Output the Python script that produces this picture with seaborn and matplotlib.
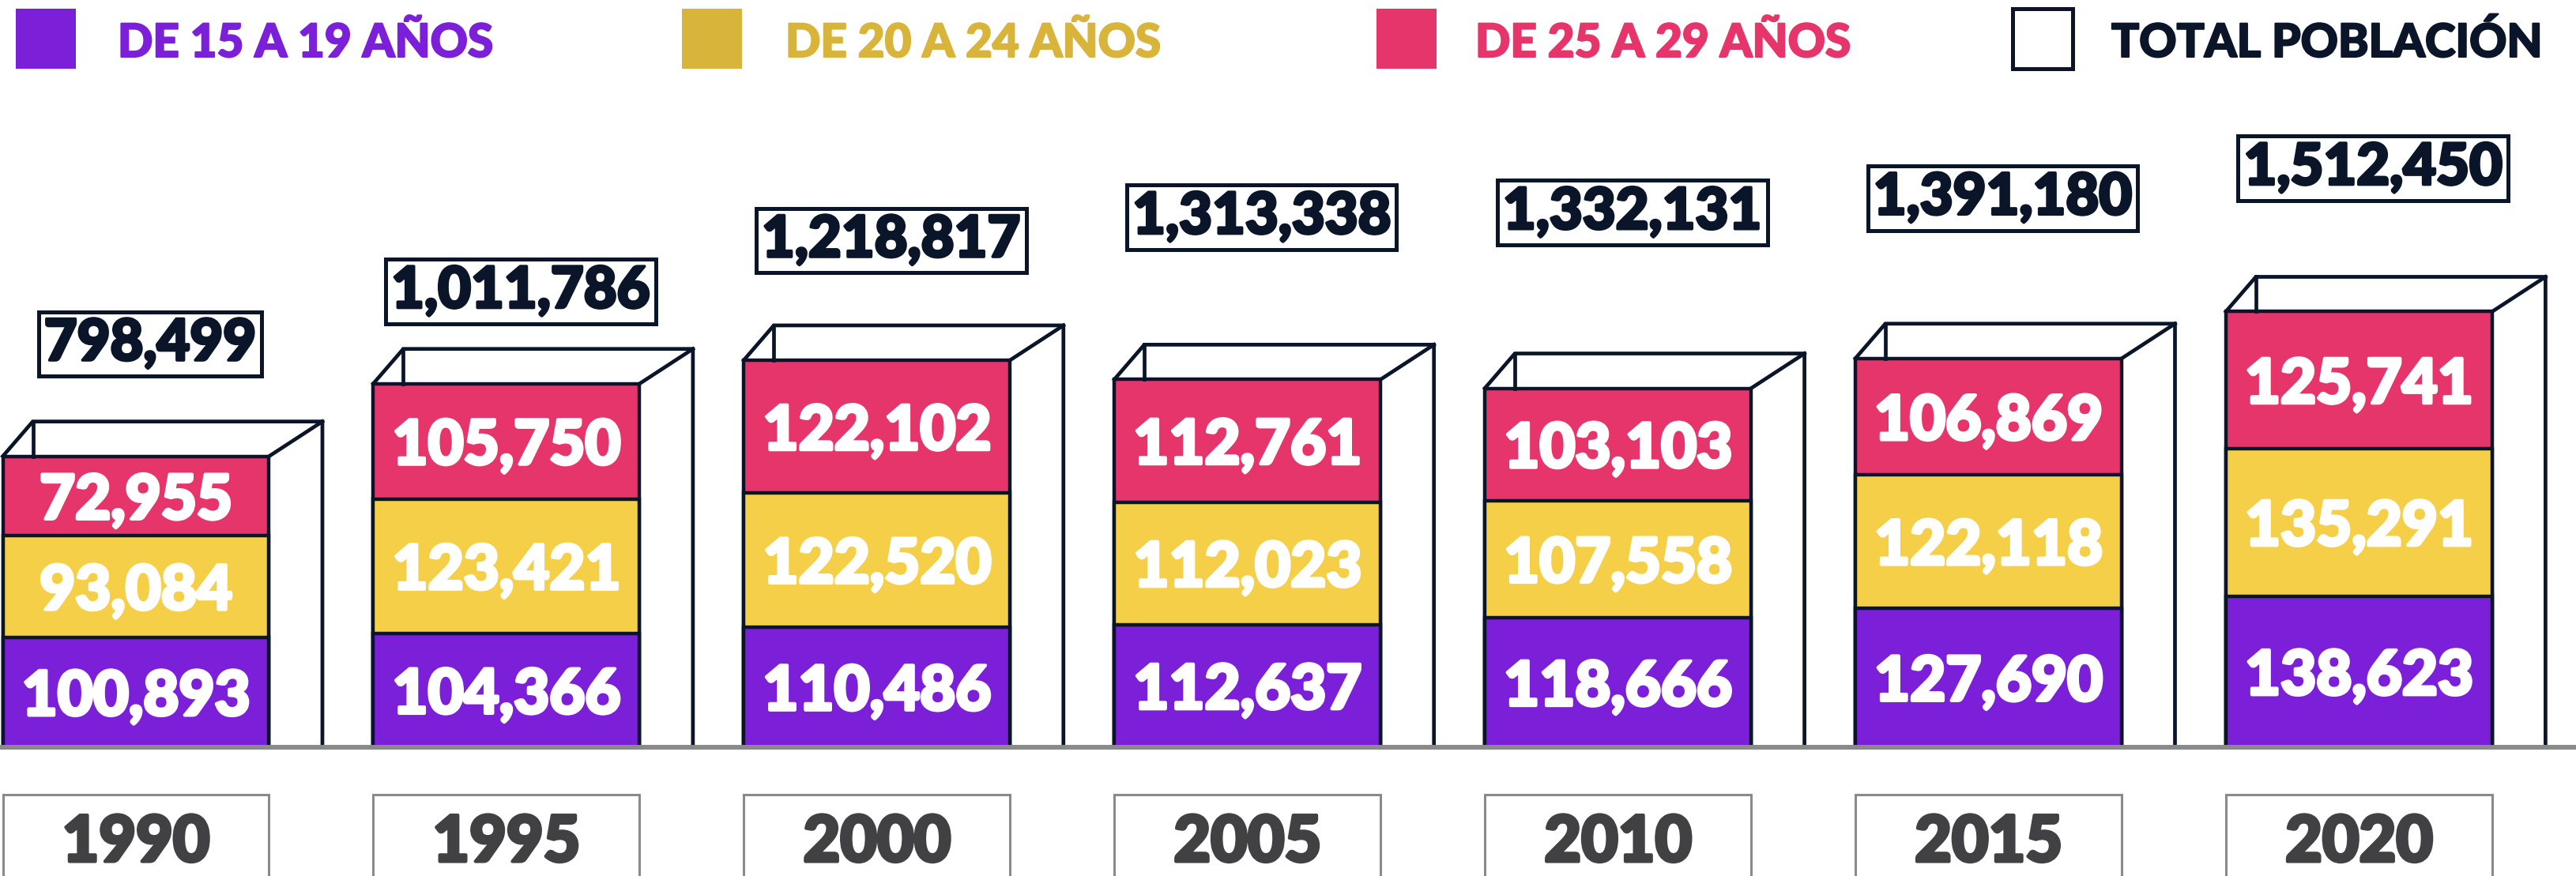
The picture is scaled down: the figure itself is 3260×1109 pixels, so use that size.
import pandas as pd
import matplotlib
matplotlib.use("Agg")
import matplotlib.pyplot as plt
import matplotlib.patheffects as pe
from matplotlib.patches import Rectangle
import seaborn as sns

years = ["1990", "1995", "2000", "2005", "2010", "2015", "2020"]
age_15_19 = [100893, 104366, 110486, 112637, 118666, 127690, 138623]
age_20_24 = [93084, 123421, 122520, 112023, 107558, 122118, 135291]
age_25_29 = [72955, 105750, 122102, 112761, 103103, 106869, 125741]
total_pop = [798499, 1011786, 1218817, 1313338, 1332131, 1391180, 1512450]
legend_labels = ["DE 15 A 19 AÑOS", "DE 20 A 24 AÑOS", "DE 25 A 29 AÑOS", "TOTAL POBLACIÓN"]

PURPLE = "#7B1FD9"
YELLOW = "#F4CF47"
RED = "#E5356B"
GOLD = "#D9B43A"
NAVY = "#0B1529"
GREY = "#8A8A8A"
YEAR_TXT = "#414042"

# layout, in output pixels
W, H, DPI = 3260, 1109, 100
BASE_PX = 163            # baseline height above bottom edge
PX_PER_UNIT_X = 468.9    # distance between bar centres
FIRST_CENTER_PX = 172
PX_PER_K = 1.38          # bar height per 1000 people
TOTAL_PX_PER_K = 0.3116  # total-label height per 1000 people
TOTAL_OFFSET_PX = 261.7
BAR_W = 0.7187

sns.set_style("white")
plt.rcParams["font.family"] = ["Lato", "DejaVu Sans"]


def heavy(color, lw):
    # thicken bold glyphs to get closer to a black weight
    return [pe.withStroke(linewidth=lw, foreground=color)]


df = pd.DataFrame({"year": years, "a": age_15_19, "b": age_20_24,
                   "c": age_25_29, "total": total_pop})
df["cum_a"] = df["a"]
df["cum_b"] = df["a"] + df["b"]
df["cum_c"] = df["cum_b"] + df["c"]

fig = plt.figure(figsize=(W / DPI, H / DPI), dpi=DPI)
ax = fig.add_axes([0, 0, 1, 1])

# stacked bars by overdrawing cumulative sums
for col, colr in [("cum_c", RED), ("cum_b", YELLOW), ("cum_a", PURPLE)]:
    sns.barplot(data=df, x="year", y=col, color=colr, saturation=1, width=BAR_W,
                errorbar=None, edgecolor=NAVY, linewidth=3.2, ax=ax)
outer = ax.patches[:len(years)]

xmin = -FIRST_CENTER_PX / PX_PER_UNIT_X
ax.set_xlim(xmin, xmin + W / PX_PER_UNIT_X)
ymin = -BASE_PX / PX_PER_K * 1000
ax.set_ylim(ymin, ymin + H / PX_PER_K * 1000)

# 3d box behind each stack
dxl = 38 / PX_PER_UNIT_X
dxr = 67.5 / PX_PER_UNIT_X
dy = 44 / PX_PER_K * 1000
line_kw = dict(color=NAVY, lw=3.4, solid_joinstyle="miter", solid_capstyle="projecting", zorder=3)
for p in outer:
    x0, w, top = p.get_x(), p.get_width(), p.get_height()
    x1 = x0 + w
    ax.plot([x0, x0 + dxl, x1 + dxr, x1 + dxr], [top, top + dy, top + dy, 0], **line_kw)
    ax.plot([x0 + dxl, x0 + dxl], [top + dy, top], **line_kw)
    ax.plot([x1, x1 + dxr], [top, top + dy], **line_kw)

# segment values
for i in range(len(years)):
    bottom = 0
    for val in (age_15_19[i], age_20_24[i], age_25_29[i]):
        ax.text(i, bottom + val / 2, f"{val:,}", ha="center", va="center_baseline",
                color="white", fontsize=56, fontweight="black", zorder=5,
                path_effects=heavy("white", 3))
        bottom += val

ax.axhline(0, color=GREY, lw=4.3, zorder=4)

# year boxes under the baseline
year_top = -60 / PX_PER_K * 1000
year_y = -114 / PX_PER_K * 1000
for p, yr in zip(outer, years):
    ax.add_patch(Rectangle((p.get_x(), ymin - 20000), p.get_width(), year_top - ymin + 20000,
                           fc="white", ec=GREY, lw=2.2, zorder=2))
    ax.text(p.get_x() + p.get_width() / 2, year_y, yr, ha="center", va="center_baseline",
            fontsize=58, fontweight="black", color=YEAR_TXT, zorder=5,
            path_effects=heavy(YEAR_TXT, 3))
ax.set_axis_off()

# total population labels on their own scale
ax2 = ax.twinx()
lo = -(BASE_PX + TOTAL_OFFSET_PX) / TOTAL_PX_PER_K * 1000
ax2.set_ylim(lo, lo + H / TOTAL_PX_PER_K * 1000)
ax2.set_axis_off()
for i, tot in enumerate(total_pop):
    ax2.text(i + 18 / PX_PER_UNIT_X, tot, f"{tot:,}", ha="center", va="center",
             fontsize=52, fontweight="black", color=NAVY, path_effects=heavy(NAVY, 2.6),
             bbox=dict(boxstyle="square,pad=0.1", fc="white", ec=NAVY, lw=3.6))

# legend row
sq_x = [20, 863, 1742, 2547]
txt_x = [149, 994, 1867, 2672]
sq_fc = [PURPLE, GOLD, RED, "white"]
txt_c = [PURPLE, GOLD, RED, NAVY]
for sx, tx, fc, tc, lab in zip(sq_x, txt_x, sq_fc, txt_c, legend_labels):
    edge = NAVY if fc == "white" else "none"
    fig.add_artist(Rectangle((sx / W, 1 - 87 / H), 76 / W, 76 / H, transform=fig.transFigure,
                             fc=fc, ec=edge, lw=3.6))
    fig.text(tx / W, 1 - 72 / H, lab, ha="left", va="baseline", fontsize=42,
             fontweight="black", color=tc, path_effects=heavy(tc, 1.5))

fig.savefig("out.png", dpi=DPI)
